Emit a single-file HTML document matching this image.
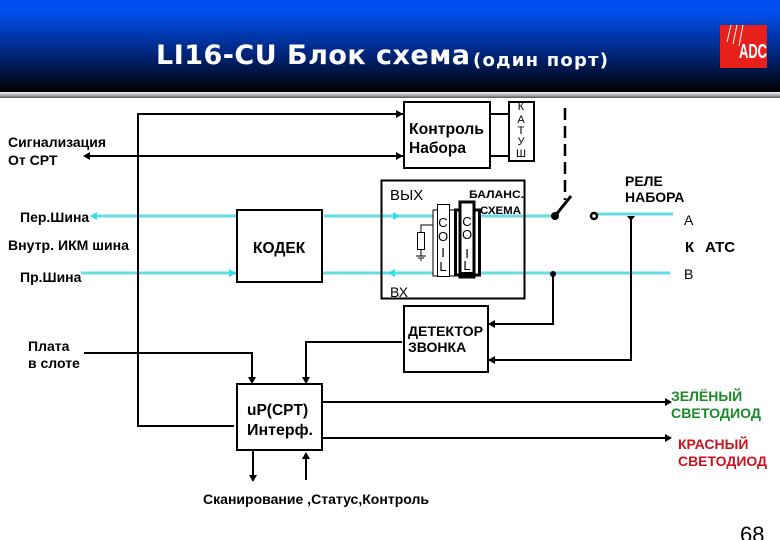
<!DOCTYPE html>
<html><head><meta charset="utf-8"><style>
html,body{margin:0;padding:0;background:#fff}
svg{display:block}
text{font-family:"Liberation Sans",sans-serif;font-weight:bold;fill:#000}
</style></head><body>
<svg width="780" height="540" viewBox="0 0 780 540" xmlns="http://www.w3.org/2000/svg">
<defs>
<linearGradient id="h" x1="0" y1="0" x2="0" y2="1"><stop offset="0" stop-color="#0050f0"/><stop offset="0.12" stop-color="#0050f0"/><stop offset="0.6" stop-color="#002578"/><stop offset="1" stop-color="#000"/></linearGradient>
<linearGradient id="b" x1="0" y1="0" x2="0" y2="1"><stop offset="0" stop-color="#f0f0f0"/><stop offset="0.5" stop-color="#b8b8b8"/><stop offset="1" stop-color="#555"/></linearGradient>
</defs>
<rect x="0" y="0" width="780" height="92" fill="url(#h)"/>
<rect x="0" y="92" width="780" height="6" fill="url(#b)"/>
<text x="156" y="64" style="font-family:'DejaVu Sans',sans-serif;font-size:27px;fill:#fff" textLength="314" lengthAdjust="spacing">LI16-CU Блок схема</text>
<text x="473" y="66" style="font-family:'DejaVu Sans',sans-serif;font-size:18px;fill:#fff" textLength="135" lengthAdjust="spacing">(один порт)</text>
<rect x="720" y="25" width="47" height="43" fill="#e8201c"/>
<path d="M731 25L727 42M737 25L733 44M743 25L739 46" stroke="#fff" stroke-width="1" fill="none"/>
<text x="739" y="58" style="font-size:20px;fill:#fff" textLength="28" lengthAdjust="spacingAndGlyphs">ADC</text>

<!-- cyan lines -->
<g stroke="#66dde2" stroke-width="3" fill="none">
<path d="M92 216H236M324 216H433M480 216H555"/>
<path d="M81 273H236M322 273H433M480 273H670"/>
<path d="M594 214H673"/>
</g>
<g fill="#30e0e8">
<path d="M90 216l7-4v8z"/>
<path d="M236 273l-7-4v8z"/>
<path d="M400 216l-7-4v8z"/>
<path d="M388 273l7-4v8z"/>
</g>

<!-- black wires -->
<g stroke="#000" stroke-width="2" fill="none">
<path d="M403 114H138V426H234"/>
<path d="M88 156H403"/>
<path d="M84 353H252V380"/>
<path d="M402 342H306V380"/>
<path d="M490 114H509M490 156H509"/>
<path d="M553 273V324H492"/>
<path d="M631 216V360H492"/>
<path d="M322 402H666M322 438H666"/>
<path d="M253 447V478"/>
<path d="M306 480V456"/>
<path d="M555 216L571 196" stroke-width="3"/>
<path d="M565 108V200" stroke-width="2.500" stroke-dasharray="12 6"/>
</g>
<g fill="#000">
<path d="M403 114l-7-4v8z"/><path d="M403 156l-7-4v8z"/>
<path d="M83 156l7-4v8z"/>
<path d="M252 384l-4-7h8z"/><path d="M306 384l-4-7h8z"/>
<path d="M488 324l7-4v8z"/><path d="M488 360l7-4v8z"/>
<path d="M672 402l-7-4v8z"/><path d="M672 438l-7-4v8z"/>
<path d="M253 482l-4-7h8z"/><path d="M306 452l-4 7h8z"/>
<path d="M627 216h8l-4 5z"/>
<circle cx="555" cy="216" r="4"/>
<circle cx="553" cy="274" r="3"/>
</g>
<circle cx="594" cy="216" r="3" fill="#fff" stroke="#000" stroke-width="2.500"/>

<!-- boxes -->
<g fill="#fff" stroke="#000" stroke-width="2">
<rect x="237" y="210" width="85" height="72"/>
<rect x="237" y="384" width="85" height="66"/>
<rect x="404" y="102" width="86" height="66"/>
<rect x="509" y="102" width="25" height="59"/>
<rect x="404" y="306" width="84" height="66"/>
</g>
<rect x="381.500" y="180.500" width="143" height="118" fill="none" stroke="#000" stroke-width="2"/>

<!-- coils -->
<g fill="#fff" stroke="#000">
<rect x="433" y="210" width="22" height="66" stroke-width="1"/>
<rect x="437.500" y="204.500" width="12" height="72" stroke-width="1"/>
<rect x="455.500" y="210" width="24" height="65" stroke-width="3"/>
<rect x="460" y="202" width="14" height="75" stroke-width="3"/>
</g>
<rect x="459" y="272" width="16" height="6" fill="#000"/>
<path d="M433 225H421V232M421 249V256M416 256H426M418 258H424M420 260H422" stroke="#000" stroke-width="1" fill="none"/>
<rect x="417.500" y="232.500" width="7" height="17" fill="#fff" stroke="#000" stroke-width="1"/>

<g style="font-size:14px">
<text x="8" y="147" textLength="98" lengthAdjust="spacingAndGlyphs">Сигнализация</text>
<text x="8" y="165">От СРТ</text>
<text x="20" y="222">Пер.Шина</text>
<text x="8" y="250" textLength="121" lengthAdjust="spacingAndGlyphs">Внутр. ИКМ шина</text>
<text x="20" y="282">Пр.Шина</text>
<text x="28" y="351">Плата</text>
<text x="28" y="368">в слоте</text>
<text x="253" y="253" style="font-size:15.500px">КОДЕК</text>
<text x="247" y="415" style="font-size:15.500px">uP(CPT)</text>
<text x="247" y="435" style="font-size:15.500px" textLength="66" lengthAdjust="spacingAndGlyphs">Интерф.</text>
<text x="409" y="134" style="font-size:15.500px" textLength="75" lengthAdjust="spacingAndGlyphs">Контроль</text>
<text x="409" y="153" style="font-size:15.500px">Набора</text>
<text x="408" y="336" style="font-size:13.500px" textLength="75" lengthAdjust="spacingAndGlyphs">ДЕТЕКТОР</text>
<text x="408" y="352">ЗВОНКА</text>
<text x="203" y="504" textLength="226" lengthAdjust="spacingAndGlyphs">Сканирование ,Статус,Контроль</text>
<text x="390" y="200" style="font-size:15px;font-weight:normal">ВЫХ</text>
<text x="390" y="297" style="font-size:14px;font-weight:normal">ВХ</text>
<text x="469" y="198" style="font-size:11px" textLength="55" lengthAdjust="spacingAndGlyphs">БАЛАНС.</text>
<text x="480" y="214" style="font-size:11px" textLength="41" lengthAdjust="spacingAndGlyphs">СХЕМА</text>
<text x="625" y="186">РЕЛЕ</text>
<text x="625" y="202">НАБОРА</text>
<text x="684" y="225" style="font-weight:normal">A</text>
<text x="684" y="279" style="font-weight:normal">B</text>
<text x="685" y="252" style="font-size:15px">К</text>
<text x="705" y="252" style="font-size:15px">АТС</text>
<text x="671" y="401" style="fill:#1a8a2a">ЗЕЛЁНЫЙ</text>
<text x="671" y="418" style="fill:#1a8a2a" textLength="90" lengthAdjust="spacingAndGlyphs">СВЕТОДИОД</text>
<text x="678" y="449" style="fill:#c8141e">КРАСНЫЙ</text>
<text x="678" y="466" style="fill:#c8141e" textLength="89" lengthAdjust="spacingAndGlyphs">СВЕТОДИОД</text>
</g>
<g text-anchor="middle">
<text x="521" y="110" style="font-size:11px;font-weight:normal">К</text>
<text x="521" y="123" style="font-size:11px;font-weight:normal">А</text>
<text x="521" y="134" style="font-size:11px;font-weight:normal">Т</text>
<text x="521" y="145" style="font-size:11px;font-weight:normal">У</text>
<text x="521" y="157" style="font-size:11px;font-weight:normal">Ш</text>
<text x="443" y="227" style="font-size:13px;font-weight:normal">С</text>
<text x="443" y="241" style="font-size:13px;font-weight:normal">О</text>
<text x="443" y="257" style="font-size:13px;font-weight:normal">I</text>
<text x="443" y="271" style="font-size:13px;font-weight:normal">L</text>
<text x="467" y="226" style="font-size:13px;font-weight:normal">С</text>
<text x="467" y="239" style="font-size:13px;font-weight:normal">О</text>
<text x="467" y="258" style="font-size:13px;font-weight:normal">I</text>
<text x="467" y="270" style="font-size:13px;font-weight:normal">L</text>
</g>
<text x="740" y="542" style="font-size:22px;font-weight:normal">68</text>
</svg>
</body></html>
